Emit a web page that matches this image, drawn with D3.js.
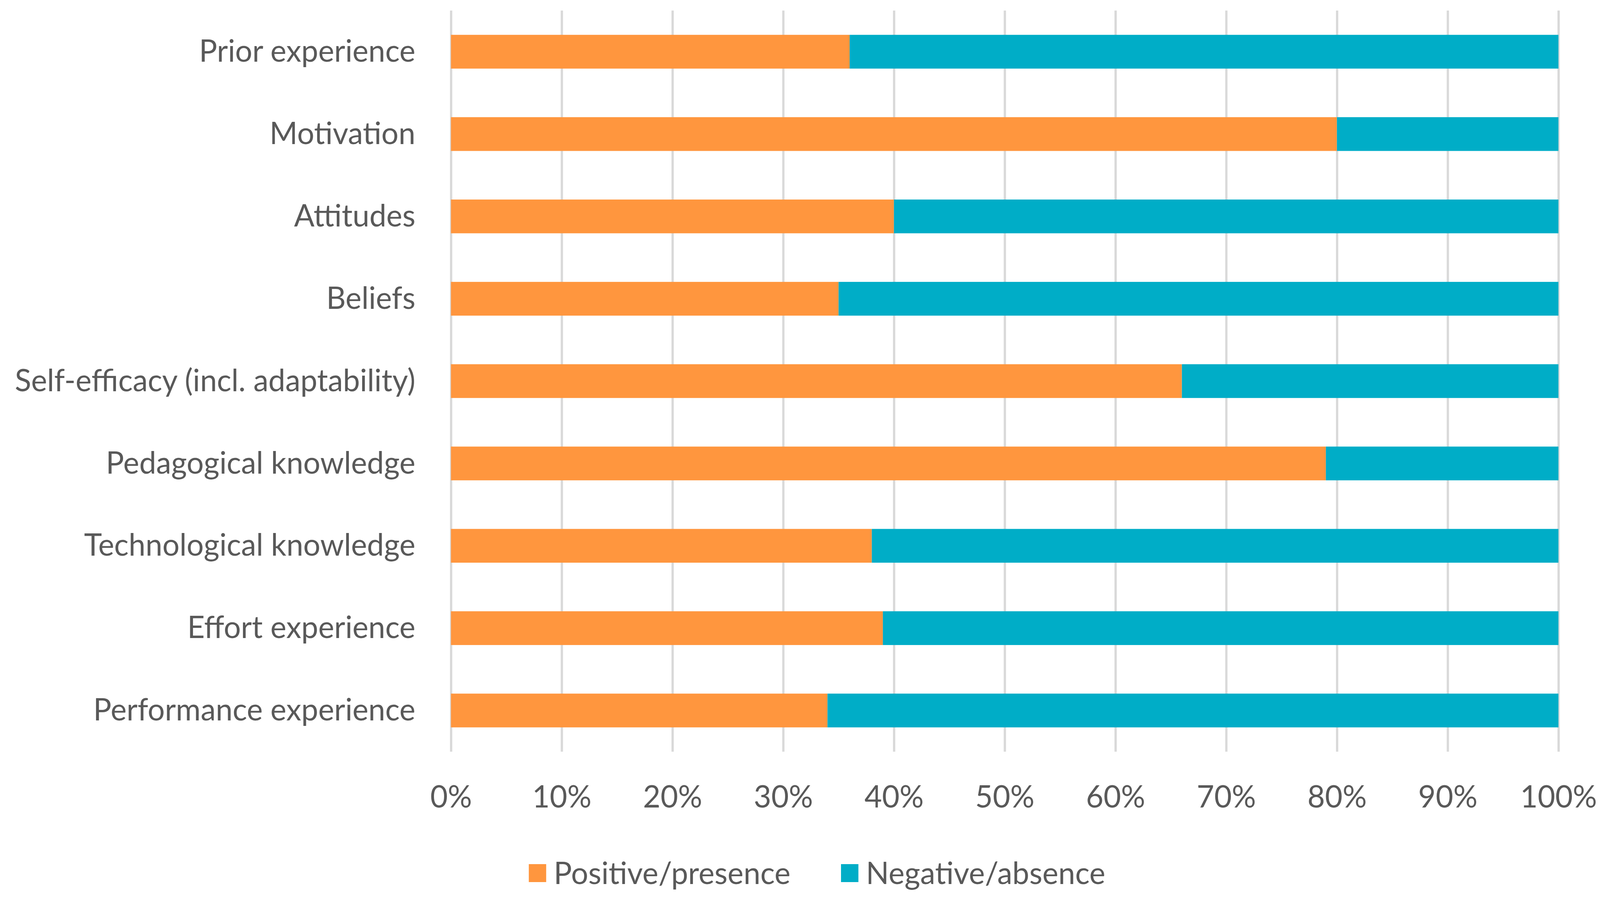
<!DOCTYPE html>
<html>
<head>
<meta charset="utf-8">
<script src="https://cdn.jsdelivr.net/npm/d3@7"></script>
<style>
  html, body { margin: 0; padding: 0; background: #fff; overflow: hidden; }
  svg { display: block; }
  text { font-family: Lato, "Open Sans", sans-serif; fill: #595959; }
</style>
</head>
<body>
<div id="chart"></div>
<script>
// Data
let categories = [
  "Prior experience",
  "Motivation",
  "Attitudes",
  "Beliefs",
  "Self-efficacy (incl. adaptability)",
  "Pedagogical knowledge",
  "Technological knowledge",
  "Effort experience",
  "Performance experience",
];
let positive = [36, 80, 40, 35, 66, 79, 38, 39, 34];
let negative = [64, 20, 60, 65, 34, 21, 62, 61, 66];
let seriesNames = ["Positive/presence", "Negative/absence"];
let xTicks = [0, 10, 20, 30, 40, 50, 60, 70, 80, 90, 100];

// Set up dimensions
let width = 4233;
let height = 2310;
let margin = { top: 27, right: 110, bottom: 385, left: 1193 };
let fontSize = 80;

// Set up color
let seriesColors = ["#ff963e", "#00adc7"];
let gridStroke = "#d9d9d9";

// Stack data
let rows = categories.map((c, i) => ({
  category: c,
  "Positive/presence": positive[i],
  "Negative/absence": negative[i],
}));
let stacked = d3.stack().keys(seriesNames)(rows);

// Set up scales
let xScale = d3
  .scaleLinear()
  .domain([0, 100])
  .range([margin.left, width - margin.right]);

let yScale = d3
  .scaleBand()
  .domain(categories)
  .range([margin.top, height - margin.bottom])
  .paddingInner(0.59)
  .paddingOuter(0.295);

let colorScale = d3.scaleOrdinal().domain(seriesNames).range(seriesColors);

// Stretch the drawing over the whole window
const svg = d3
  .select("#chart")
  .append("svg")
  .attr("viewBox", `0 0 ${width} ${height}`)
  .attr("preserveAspectRatio", "none")
  .style("width", "100vw")
  .style("height", "100vh");

// Draw gridlines and x axis labels
const xAxisG = svg
  .append("g")
  .attr("class", "x axis")
  .attr("transform", `translate(0,${height - margin.bottom})`)
  .call(
    d3
      .axisBottom(xScale)
      .tickValues(xTicks)
      .tickSize(-(height - margin.top - margin.bottom))
      .tickPadding(86)
      .tickFormat((d) => `${d}%`)
  );
xAxisG.select(".domain").remove();
xAxisG.selectAll("line").attr("stroke", gridStroke).attr("stroke-width", 6);
xAxisG
  .selectAll("text")
  .attr("font-size", fontSize)
  .attr("fill", "#595959");

// Draw bars
svg
  .append("g")
  .attr("class", "bars")
  .selectAll("g")
  .data(stacked)
  .join("g")
  .attr("fill", (d) => colorScale(d.key))
  .selectAll("rect")
  .data((d) => d)
  .join("rect")
  .attr("x", (d) => xScale(d[0]))
  .attr("y", (d) => yScale(d.data.category))
  .attr("width", (d) => xScale(d[1]) - xScale(d[0]))
  .attr("height", yScale.bandwidth());

// Draw y axis
const yAxisG = svg
  .append("g")
  .attr("class", "y axis")
  .attr("transform", `translate(${margin.left},0)`)
  .call(d3.axisLeft(yScale).tickSize(0).tickPadding(94));
yAxisG.select(".domain").remove();
yAxisG
  .selectAll("text")
  .attr("font-size", fontSize)
  .attr("fill", "#595959");

// Draw legend
let legendX = [1399, 2225];
let legend = svg
  .append("g")
  .attr("class", "legend")
  .selectAll("g")
  .data(seriesNames)
  .join("g")
  .attr("transform", (d, i) => `translate(${legendX[i]},2236)`);

legend
  .append("rect")
  .attr("y", -23)
  .attr("width", 46)
  .attr("height", 46)
  .attr("fill", (d) => colorScale(d));

legend
  .append("text")
  .attr("x", 66)
  .attr("dy", "0.35em")
  .attr("font-size", fontSize)
  .text((d) => d);
</script>
</body>
</html>
